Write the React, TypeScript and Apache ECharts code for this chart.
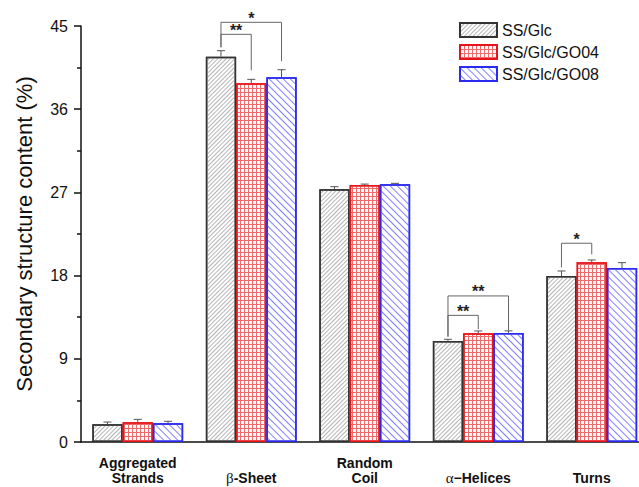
import React, { useEffect, useRef } from "react";
import * as echarts from "echarts";

const categories = ["Aggregated\nStrands", "β-Sheet", "Random\nCoil", "α−Helices", "Turns"];
const seriesNames = ["SS/Glc", "SS/Glc/GO04", "SS/Glc/GO08"];
const ssGlc = [1.91, 41.68, 27.33, 10.93, 17.96];
const ssGlcGO04 = [2.13, 38.8, 27.8, 11.76, 19.44];
const ssGlcGO08 = [2.02, 39.45, 27.88, 11.8, 18.82];
const errSSGlc = [0.25, 0.65, 0.29, 0.18, 0.54];
const errGO04 = [0.32, 0.43, 0.1, 0.25, 0.25];
const errGO08 = [0.22, 0.82, 0.1, 0.22, 0.58];
const yTicks = { min: 0, max: 45, interval: 9 };

// significance brackets: category, from-series, to-series, bottoms and level (in %)
const bracketCat = [1, 1, 3, 3, 4];
const bracketFrom = [0, 0, 0, 0, 0];
const bracketTo = [1, 2, 1, 2, 1];
const bracketFromBottom = [42.7, 42.7, 11.4, 11.4, 18.9];
const bracketLevel = [44.1, 45.4, 13.7, 15.8, 21.5];
const bracketToBottom = [40.2, 41.2, 12.2, 12.1, 20.3];
const bracketLabel = ["**", "*", "**", "**", "*"];

const FONT = "Liberation Sans, Arial, sans-serif";

export default function App() {
  const ref = useRef<HTMLDivElement>(null);
  useEffect(() => {
    if (!ref.current) return;
    const chart = echarts.init(ref.current, null, { renderer: "svg" });
    const values = [ssGlc, ssGlcGO04, ssGlcGO08];
    const errs = [errSSGlc, errGO04, errGO08];
    const borders = ["#333333", "#e8141b", "#2a2af0"];
    const decals: any[] = [
      { symbol: "rect", symbolSize: 1, color: "#b4b4b4", dashArrayX: [1, 0], dashArrayY: [1, 2], rotation: -Math.PI / 4 },
      { symbol: "path://M0,0L4,0L4,1L1,1L1,4L0,4Z", symbolSize: 1, color: "#f06a6a", dashArrayX: [4, 0], dashArrayY: [4, 0] },
      { symbol: "rect", symbolSize: 1, color: "#8080ff", dashArrayX: [1, 0], dashArrayY: [1, 4], rotation: Math.PI / 4 },
    ];
    const barSeries = seriesNames.map((name, i) => ({
      name,
      type: "bar",
      data: values[i],
      barGap: "0%",
      barCategoryGap: "20%",
      itemStyle: { color: "#ffffff", borderColor: borders[i], borderWidth: 1.5, decal: decals[i] },
      z: 2,
    }));
    const errData: number[][] = [];
    values.forEach((vals, s) => vals.forEach((v, c) => errData.push([c, v + errs[s][c], v, s])));
    const errSeries = {
      type: "custom",
      name: "err",
      data: errData,
      encode: { x: 0, y: 1 },
      z: 5,
      renderItem: (params: any, api: any) => {
        const c = api.value(0);
        const top = api.value(1);
        const base = api.value(2);
        const s = api.value(3);
        const bw = (api.size([1, 0])[0] * 0.8) / 3;
        const x = api.coord([c, 0])[0] + (s - 1) * bw;
        const yT = api.coord([c, top])[1];
        const yB = api.coord([c, base])[1];
        const cap = 4;
        return {
          type: "group",
          children: [
            { type: "line", shape: { x1: x, y1: yB, x2: x, y2: yT }, style: { stroke: "#555", lineWidth: 1 } },
            { type: "line", shape: { x1: x - cap, y1: yT, x2: x + cap, y2: yT }, style: { stroke: "#555", lineWidth: 1 } },
          ],
        };
      },
    };
    const bracketSeries = {
      type: "custom",
      name: "sig",
      data: bracketCat.map((c, i) => [c, bracketLevel[i]]),
      encode: { x: 0, y: 1 },
      clip: false,
      z: 6,
      renderItem: (params: any, api: any) => {
        const i = params.dataIndex;
        const c = bracketCat[i];
        const bw = (api.size([1, 0])[0] * 0.8) / 3;
        const cx = api.coord([c, 0])[0];
        const x1 = cx + (bracketFrom[i] - 1) * bw;
        const x2 = cx + (bracketTo[i] - 1) * bw;
        const y1 = api.coord([c, bracketFromBottom[i]])[1];
        const yl = api.coord([c, bracketLevel[i]])[1];
        const y2 = api.coord([c, bracketToBottom[i]])[1];
        return {
          type: "group",
          children: [
            {
              type: "polyline",
              shape: { points: [[x1, y1], [x1, yl], [x2, yl], [x2, y2]] },
              style: { stroke: "#666", fill: null, lineWidth: 1 },
            },
            {
              type: "text",
              x: (x1 + x2) / 2,
              y: yl - 4,
              style: {
                text: bracketLabel[i],
                fill: "#222",
                font: "bold 16px " + FONT,
                textAlign: "center",
                textVerticalAlign: "middle",
              },
            },
          ],
        };
      },
    };
    const lbl = { fontSize: 14, fontWeight: "bold", color: "#111", fontFamily: FONT };
    const greek = { fontSize: 15, fontWeight: "normal", color: "#111", fontFamily: "Liberation Serif, serif" };
    const wrapLine = (line: string, style: string, gStyle: string) =>
      line
        .split(/([αβ])/)
        .filter((p) => p.length > 0)
        .map((p) => (/[αβ]/.test(p) ? `{${gStyle}|${p}}` : `{${style}|${p}}`))
        .join("");
    chart.setOption({
      animation: false,
      backgroundColor: "#ffffff",
      grid: { left: 81, top: 26, bottom: 45, right: -9.5, containLabel: false, outerBoundsMode: "none" },
      legend: {
        data: seriesNames,
        orient: "vertical",
        left: 454,
        top: 17,
        itemWidth: 37,
        itemHeight: 14,
        itemGap: 6,
        icon: "rect",
        textStyle: { fontSize: 16, color: "#111", fontFamily: FONT },
      },
      xAxis: {
        type: "category",
        data: categories,
        axisLine: { lineStyle: { color: "#111", width: 1.5 } },
        axisTick: { alignWithLabel: true, length: 6, lineStyle: { color: "#111", width: 1.5 } },
        axisLabel: {
          interval: 0,
          margin: 13,
          verticalAlign: "top",
          ...lbl,
          formatter: (v: string) => {
            const lines = v.split("\n");
            if (lines.length > 1) return lines.map((l) => wrapLine(l, "a", "ga")).join("\n");
            return wrapLine(v, "s", "gs");
          },
          rich: {
            a: { ...lbl, lineHeight: 15 },
            ga: { ...greek, lineHeight: 15 },
            s: { ...lbl, lineHeight: 46 },
            gs: { ...greek, lineHeight: 46 },
          },
        },
      },
      yAxis: {
        type: "value",
        min: yTicks.min,
        max: yTicks.max,
        interval: yTicks.interval,
        name: "Secondary structure content (%)",
        nameLocation: "middle",
        nameGap: 46,
        nameTextStyle: { fontSize: 22, color: "#111", fontFamily: FONT },
        axisLine: { show: true, lineStyle: { color: "#111", width: 1.5 } },
        axisTick: { show: true, length: 7, lineStyle: { color: "#111", width: 1.5 } },
        minorTick: { show: true, splitNumber: 2, length: 4, lineStyle: { color: "#111", width: 1.5 } },
        splitLine: { show: false },
        axisLabel: { margin: 13, fontSize: 16, color: "#111", fontFamily: FONT },
      },
      series: [...barSeries, errSeries, bracketSeries],
    } as any);
    return () => chart.dispose();
  }, []);
  return <div ref={ref} style={{ position: "fixed", left: 0, top: 0, width: 639, height: 487 }} />;
}
